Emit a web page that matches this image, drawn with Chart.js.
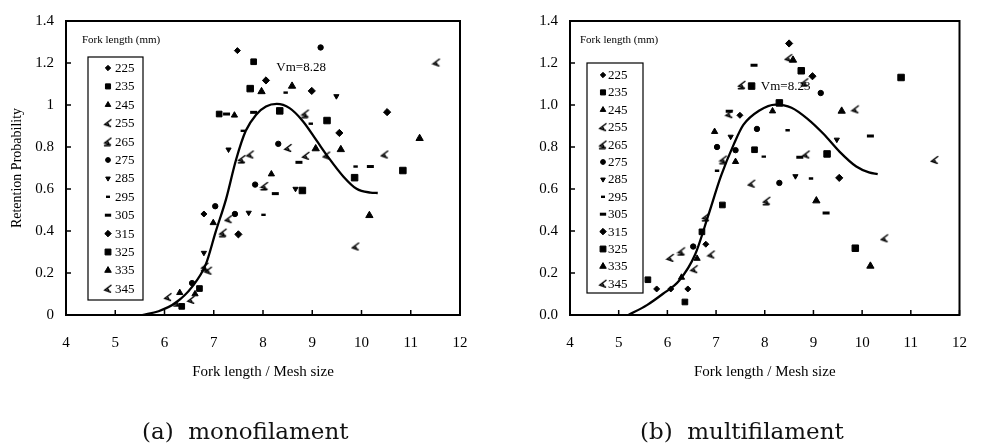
<!DOCTYPE html>
<html><head><meta charset="utf-8">
<script src="https://cdn.jsdelivr.net/npm/chart.js@4/dist/chart.umd.min.js"></script>
<style>
html,body{margin:0;padding:0;background:#fff;}
#wrap{position:relative;width:986px;height:445px;overflow:hidden;background:#fff;}
canvas{position:absolute;top:0;}
.cap{position:absolute;top:418px;font-family:"DejaVu Serif",serif;font-size:23px;line-height:26px;white-space:pre;color:#111;}
</style></head><body>
<div id="wrap">
<canvas id="c1" width="493" height="445" style="left:0"></canvas>
<canvas id="c2" width="493" height="445" style="left:493px"></canvas>
<div class="cap" style="left:142px">(a)  monofilament</div>
<div class="cap" style="left:640px">(b)  multifilament</div>
</div>
<script>
// ---------- data ----------
const forkLengths = ['225','235','245','255','265','275','285','295','305','315','325','335','345'];
const xTickValues = [4,5,6,7,8,9,10,11,12];
const monoYTickLabels = ['0','0.2','0.4','0.6','0.8','1','1.2','1.4'];
const multiYTickLabels = ['0.0','0.2','0.4','0.6','0.8','1.0','1.2','1.4'];

// (a) monofilament  [fork length / mesh size, retention probability]
const mono225 = [[7.48,1.259],[6.80,0.481]];
const mono235 = [[7.81,1.206],[7.11,0.957],[6.71,0.126],[6.35,0.041]];
const mono245 = [[8.17,0.671],[7.42,0.951],[6.99,0.439],[6.62,0.100],[6.31,0.106]];
const mono255 = [[8.51,0.795],[7.74,0.764],[7.30,0.456],[6.89,0.211],[6.54,0.072],[6.07,0.085]];
const mono265 = [[8.86,0.959],[8.03,0.614],[7.57,0.742],[7.19,0.392],[6.82,0.230],[6.26,0.060]];
const mono275 = [[9.17,1.274],[8.31,0.815],[7.84,0.621],[7.43,0.481],[7.03,0.518],[6.56,0.152]];
const mono285 = [[9.49,1.042],[8.66,0.601],[7.71,0.487],[7.30,0.788],[6.80,0.296]];
const mono295 = [[9.88,0.707],[8.97,0.911],[8.46,1.059],[8.01,0.477],[7.59,0.877]];
const mono305 = [[10.18,0.707],[8.73,0.727],[8.25,0.578],[7.81,0.965],[7.26,0.957]];
const mono315 = [[10.52,0.966],[9.55,0.867],[8.99,1.067],[8.06,1.117],[7.50,0.384]];
const mono325 = [[10.84,0.688],[9.86,0.654],[9.30,0.926],[8.80,0.593],[8.34,0.972],[7.74,1.078]];
const mono335 = [[11.18,0.841],[10.16,0.474],[9.58,0.788],[9.07,0.792],[8.59,1.090],[7.97,1.064]];
const mono345 = [[11.52,1.202],[10.47,0.764],[9.88,0.326],[9.29,0.759],[8.87,0.758]];
const monoCurveX = [5.55,5.88,6.22,6.56,6.84,7.04,7.25,7.45,7.65,7.86,8.06,8.28,8.54,8.81,9.09,9.32,9.63,9.90,10.18,10.33];
const monoCurveY = [0,0.018,0.057,0.134,0.242,0.397,0.552,0.737,0.877,0.954,0.993,1.005,0.985,0.923,0.830,0.753,0.660,0.601,0.583,0.581];
const monoLabel = {text:'Vm=8.28', x:8.27, y:1.177};

// (b) multifilament
const multi225 = [[7.49,0.951],[6.79,0.337],[6.42,0.124],[6.07,0.124],[5.78,0.124]];
const multi235 = [[7.79,0.787],[7.13,0.524],[6.71,0.396],[6.36,0.062],[5.60,0.168]];
const multi245 = [[8.16,0.971],[7.40,0.730],[6.97,0.873],[6.61,0.269],[6.29,0.179]];
const multi255 = [[8.49,1.223],[7.73,0.625],[7.27,0.956],[6.90,0.288],[6.55,0.218],[6.06,0.272]];
const multi265 = [[8.82,1.108],[8.04,0.544],[7.53,1.096],[7.15,0.740],[6.79,0.466],[6.29,0.303]];
const multi275 = [[9.15,1.057],[8.30,0.629],[7.84,0.886],[7.40,0.785],[7.02,0.800],[6.53,0.326]];
const multi285 = [[9.48,0.835],[8.63,0.661],[7.30,0.849]];
const multi295 = [[8.95,0.650],[8.47,0.880],[7.98,0.754],[7.02,0.687]];
const multi305 = [[10.17,0.852],[9.26,0.486],[8.72,0.751],[7.78,1.189],[7.27,0.970]];
const multi315 = [[9.53,0.653],[8.98,1.137],[8.50,1.293]];
const multi325 = [[10.80,1.131],[9.86,0.318],[9.28,0.767],[8.75,1.163],[8.30,1.010],[7.73,1.090]];
const multi335 = [[10.17,0.233],[9.58,0.971],[9.06,0.544],[8.58,1.214]];
const multi345 = [[11.49,0.738],[10.46,0.365],[9.86,0.979],[8.85,0.764]];
const multiCurveX = [5.2,5.58,5.91,6.24,6.57,6.84,7.10,7.37,7.56,7.89,8.22,8.55,8.89,9.21,9.54,9.88,10.14,10.32];
const multiCurveY = [0,0.047,0.101,0.163,0.288,0.474,0.661,0.816,0.905,0.974,1.002,0.987,0.932,0.862,0.777,0.707,0.679,0.671];
const multiLabel = {text:'Vm=8.23', x:7.92, y:1.088};

// ---------- styles ----------
function mkMark(variant){
  const c=document.createElement('canvas'); c.width=10; c.height=10;
  const g=c.getContext('2d'); g.strokeStyle='#000'; g.lineWidth=1.5; g.lineCap='round';
  g.beginPath();
  g.moveTo(8,1.5); g.lineTo(1.8,6.2); g.lineTo(7.5,8.2);
  g.moveTo(4.2,4.4); g.lineTo(5.8,6.6);
  if(variant===2){ g.moveTo(1.5,8.8); g.lineTo(7,8.8); }
  g.stroke();
  return c;
}
const markA = mkMark(1), markB = mkMark(2);
const seriesStyles = [
  {pointStyle:'rectRot', radius:3, rotation:0},
  {pointStyle:'rect', radius:4, rotation:0},
  {pointStyle:'triangle', radius:3.6, rotation:0},
  {pointStyle:markA, radius:5, rotation:0},
  {pointStyle:markB, radius:5, rotation:0},
  {pointStyle:'circle', radius:2.7, rotation:0},
  {pointStyle:'triangle', radius:3, rotation:180},
  {pointStyle:'line', radius:2.2, rotation:0, bw:2.4},
  {pointStyle:'line', radius:3.5, rotation:0, bw:3},
  {pointStyle:'rectRot', radius:3.6, rotation:0},
  {pointStyle:'rect', radius:4.6, rotation:0},
  {pointStyle:'triangle', radius:4.2, rotation:0},
  {pointStyle:markA, radius:5, rotation:0}
];

const SERIF = '"Liberation Serif","Times New Roman",serif';

function buildDatasets(series, cx, cy){
  const ds = series.map((pts,i)=>{
    const s = seriesStyles[i];
    return {
      label: forkLengths[i],
      data: pts.map(p=>({x:p[0], y:p[1]})),
      showLine:false,
      pointStyle:s.pointStyle, pointRotation:s.rotation, pointRadius:s.radius,
      pointBackgroundColor:'#000', pointBorderColor:'#000', pointBorderWidth:s.bw||1
    };
  });
  ds.push({
    label:'curve', data: cx.map((x,i)=>({x:x, y:cy[i]})),
    showLine:true, pointRadius:0, borderColor:'#000', borderWidth:2.3,
    cubicInterpolationMode:'monotone', fill:false
  });
  return ds;
}

const framePlugin = {
  id:'frame',
  afterDraw(chart, args, opts){
    const {ctx, chartArea:a, scales:{x,y}} = chart;
    ctx.save();
    ctx.strokeStyle='#000'; ctx.lineWidth=2;
    ctx.strokeRect(a.left, a.top, a.right-a.left, a.bottom-a.top);
    ctx.lineWidth=1.5;
    ctx.beginPath();
    x.ticks.forEach(t=>{ const px=x.getPixelForValue(t.value); ctx.moveTo(px,a.bottom); ctx.lineTo(px,a.bottom-5); });
    y.ticks.forEach(t=>{ const py=y.getPixelForValue(t.value); ctx.moveTo(a.left,py); ctx.lineTo(a.left+5,py); });
    ctx.stroke();
    // annotation
    if (opts.label){
      ctx.fillStyle='#000'; ctx.font='13px '+SERIF; ctx.textBaseline='middle'; ctx.textAlign='left';
      ctx.fillText(opts.label.text, x.getPixelForValue(opts.label.x), y.getPixelForValue(opts.label.y));
    }
    // legend
    const L = opts.legend;
    const a0 = a;
    ctx.font='11px '+SERIF; ctx.textBaseline='middle'; ctx.textAlign='left';
    ctx.fillText('Fork length (mm)', a0.left+L.titleDx, a0.top+L.titleDy);
    ctx.lineWidth=1.2;
    ctx.strokeRect(a0.left+L.boxDx, a0.top+L.boxDy, L.boxW, L.boxH);
    ctx.font='13px '+SERIF;
    chart.data.datasets.forEach((d,i)=>{
      if (i>=forkLengths.length) return;
      const yy = a0.top + L.firstDy + i*L.step;
      const mx = a0.left + L.markDx;
      ctx.fillStyle='#000'; ctx.strokeStyle='#000';
      ctx.lineWidth = d.pointBorderWidth;
      Chart.helpers.drawPoint(ctx, {pointStyle:d.pointStyle, rotation:d.pointRotation, radius:d.pointRadius*0.9, borderWidth:d.pointBorderWidth}, mx, yy);
      ctx.fillText(d.label, a0.left + L.textDx, yy+0.5);
    });
    ctx.restore();
  }
};

function makeChart(id, series, cx, cy, yLabels, yWidth, pad, showYTitle, legendPos, label){
  return new Chart(document.getElementById(id), {
    type:'scatter',
    data:{datasets: buildDatasets(series, cx, cy)},
    options:{
      responsive:false, animation:false, devicePixelRatio:1,
      layout:{padding:pad},
      plugins:{legend:{display:false}, tooltip:{enabled:false},
        frame:{legend:legendPos, label:label}},
      scales:{
        x:{type:'linear', min:4, max:12,
          afterBuildTicks:(s)=>{ s.ticks = xTickValues.map(v=>({value:v})); },
          ticks:{padding:19, color:'#000', font:{family:SERIF, size:15}, callback:(v)=>String(v)},
          grid:{display:false, drawTicks:false}, border:{display:false},
          title:{display:true, text:'Fork length / Mesh size', color:'#000', font:{family:SERIF, size:15}, padding:{top:0,bottom:4}},
          afterFit:(s)=>{ s.height = 70; }
        },
        y:{type:'linear', min:0, max:1.4,
          ticks:{stepSize:0.2, padding:12, color:'#000', font:{family:SERIF, size:15},
            callback:(v,i)=>yLabels[i]},
          grid:{display:false, drawTicks:false}, border:{display:false},
          title:{display:showYTitle, text:'Retention Probability', color:'#000', font:{family:SERIF, size:14}, padding:{top:9,bottom:0}},
          afterFit:(s)=>{ s.width = yWidth; }
        }
      }
    },
    plugins:[framePlugin]
  });
}

makeChart('c1',
  [mono225,mono235,mono245,mono255,mono265,mono275,mono285,mono295,mono305,mono315,mono325,mono335,mono345],
  monoCurveX, monoCurveY, monoYTickLabels, 66, {left:0, top:14, right:33, bottom:60}, true,
  {titleDx:16, titleDy:19, boxDx:22, boxDy:36, boxW:55, boxH:243, markDx:42, textDx:49, firstDy:47, step:18.4},
  monoLabel);
makeChart('c2',
  [multi225,multi235,multi245,multi255,multi265,multi275,multi285,multi295,multi305,multi315,multi325,multi335,multi345],
  multiCurveX, multiCurveY, multiYTickLabels, 77, {left:0, top:15, right:12, bottom:60}, false,
  {titleDx:10, titleDy:19, boxDx:17, boxDy:42, boxW:56, boxH:230, markDx:33, textDx:38, firstDy:54, step:17.4},
  multiLabel);
</script>
</body></html>
